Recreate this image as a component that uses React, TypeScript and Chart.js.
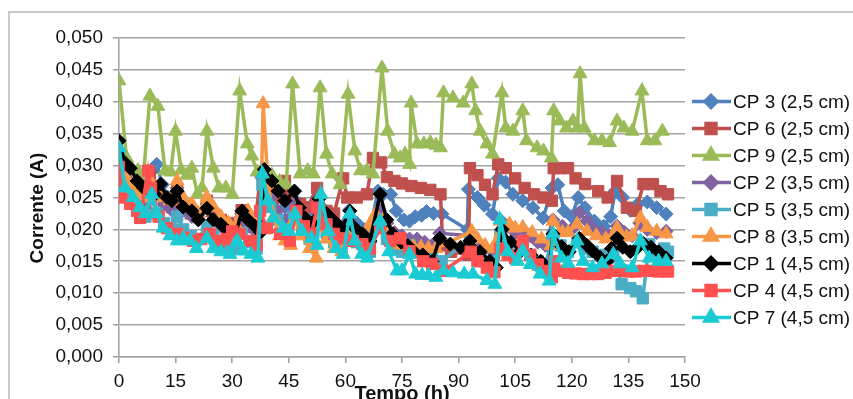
import React, { useEffect, useRef } from 'react';
import { Chart, registerables } from 'chart.js';
import { drawPoint } from 'chart.js/helpers';

Chart.register(...registerables);

// ---- data: [tempo (h), corrente (A)] ----
const cp3: [number, number][] = [[0,0.0315],[1.5,0.0285],[3,0.0270],[5,0.0260],[7,0.0255],[8.5,0.0290],[10,0.0302],[11.5,0.0270],[13,0.0250],[15.4,0.0265],[17,0.0240],[19.3,0.0235],[21,0.0220],[23.3,0.0240],[25,0.0220],[27,0.0210],[29,0.0205],[31,0.0200],[32.5,0.0225],[34.5,0.0210],[36.5,0.0200],[38,0.0290],[40,0.0265],[42,0.0250],[44,0.0235],[46.5,0.0260],[48,0.0240],[50,0.0225],[52.5,0.0250],[54.5,0.0230],[56.5,0.0215],[58.5,0.0205],[61,0.0230],[63,0.0210],[65,0.0200],[66.5,0.0195],[68.6,0.0260],[70,0.0255],[72,0.0255],[73.5,0.0229],[75.5,0.0215],[77,0.0213],[78.5,0.0220],[80.2,0.0222],[81.5,0.0228],[83.3,0.0225],[85.6,0.0224],[92.3,0.0200],[92.6,0.0263],[95,0.0250],[96.8,0.0238],[99,0.0224],[100.5,0.0280],[102.5,0.0274],[104.4,0.0255],[107,0.0245],[109.7,0.0234],[112.4,0.0218],[114.8,0.0265],[116.3,0.0270],[118,0.0229],[120,0.0220],[121.7,0.0250],[123.5,0.0234],[126,0.0213],[128.5,0.0205],[130.3,0.0220],[131.5,0.0260],[133.5,0.0250],[135.5,0.0230],[137.5,0.0240],[140,0.0243],[142.5,0.0234],[145,0.0224]];

const cp6: [number, number][] = [[0,0.0310],[1.5,0.0275],[3,0.0260],[5,0.0250],[7,0.0240],[8.2,0.0285],[10,0.0260],[12,0.0245],[14,0.0235],[15.4,0.0260],[17,0.0235],[19,0.0225],[21,0.0220],[23.3,0.0245],[25,0.0225],[27,0.0215],[29,0.0210],[31,0.0205],[32.5,0.0230],[34,0.0215],[36,0.0205],[37.6,0.0290],[39,0.0270],[41,0.0260],[42.7,0.0250],[44,0.0276],[45.3,0.0255],[48,0.0240],[50,0.0235],[52.5,0.0265],[55,0.0229],[57,0.0225],[59.4,0.0280],[60.5,0.0250],[63,0.0250],[65.7,0.0255],[67.3,0.0312],[69.5,0.0305],[71,0.0282],[73,0.0276],[75,0.0272],[77.5,0.0268],[80,0.0265],[82.5,0.0262],[85.2,0.0255],[85.8,0.0175],[88,0.0165],[92.6,0.0160],[93,0.0296],[95,0.0285],[97,0.0270],[99,0.0255],[100.5,0.0302],[102.5,0.0296],[105,0.0280],[107.5,0.0265],[110,0.0255],[112.5,0.0250],[114.7,0.0245],[115.2,0.0296],[117,0.0296],[119,0.0296],[121,0.0280],[123.5,0.0271],[127,0.0260],[129.5,0.0250],[132,0.0276],[134.6,0.0234],[137,0.0229],[139,0.0271],[141.5,0.0271],[143.5,0.0260],[145.5,0.0255]];

const cp9: [number, number][] = [[0,0.0433],[2,0.0312],[3.5,0.0295],[5,0.0292],[6.5,0.0285],[8.2,0.0409],[10.3,0.0393],[12.2,0.0292],[13.7,0.0290],[15,0.0354],[16.5,0.0293],[18,0.0285],[19.3,0.0296],[20.8,0.0255],[22,0.0265],[23.3,0.0354],[25,0.0296],[26.5,0.0265],[28.3,0.0265],[30,0.0255],[32,0.0417],[34,0.0334],[35.2,0.0315],[36.6,0.0290],[38.5,0.0275],[40.5,0.0285],[42.5,0.0275],[44.3,0.0270],[46,0.0428],[48,0.0287],[50,0.0292],[51.5,0.0287],[53.3,0.0422],[55,0.0318],[56.5,0.0287],[58.6,0.0270],[60.7,0.0412],[62.5,0.0323],[64,0.0292],[65.7,0.0292],[67.3,0.0287],[69.7,0.0453],[71.2,0.0354],[73,0.0318],[74.5,0.0312],[75.8,0.0318],[77,0.0302],[77.4,0.0398],[79,0.0334],[80.8,0.0334],[82.5,0.0336],[84,0.0332],[85.2,0.0328],[86,0.0414],[88.5,0.0406],[91.2,0.0398],[93.5,0.0428],[94.5,0.0386],[95.7,0.0354],[97.5,0.0334],[99,0.0318],[101.5,0.0414],[102.5,0.0359],[104.4,0.0354],[107,0.0386],[108,0.0339],[110.8,0.0328],[112.5,0.0323],[114.6,0.0312],[115.2,0.0386],[116.8,0.0370],[118.6,0.0359],[120.3,0.0370],[121.5,0.0359],[122.2,0.0444],[123.3,0.0359],[126,0.0339],[128,0.0339],[130,0.0336],[132,0.0370],[133.8,0.0359],[136,0.0354],[138.6,0.0417],[140,0.0339],[142,0.0339],[144,0.0354]];

const cp2: [number, number][] = [[0,0.0310],[2,0.0280],[4,0.0260],[6,0.0250],[8,0.0270],[10,0.0255],[12,0.0240],[14,0.0230],[15.4,0.0255],[17,0.0230],[19.3,0.0220],[21,0.0215],[23.3,0.0235],[25,0.0215],[27,0.0205],[29,0.0200],[31,0.0195],[32.5,0.0220],[34.5,0.0205],[36.5,0.0195],[38,0.0280],[40,0.0250],[42,0.0230],[44,0.0215],[46.5,0.0240],[48.5,0.0220],[50.5,0.0205],[52.7,0.0235],[55,0.0210],[57,0.0195],[59,0.0185],[61,0.0215],[63,0.0195],[65,0.0185],[66.5,0.0180],[69,0.0230],[71,0.0210],[73,0.0195],[75,0.0190],[77,0.0185],[79,0.0185],[81,0.0180],[83,0.0175],[85,0.0194],[93,0.0190],[95,0.0180],[97,0.0170],[99,0.0165],[101,0.0215],[103,0.0205],[105,0.0195],[107,0.0200],[109,0.0190],[111,0.0180],[113,0.0175],[115,0.0215],[117.5,0.0205],[120,0.0200],[122,0.0226],[124,0.0213],[126,0.0200],[128,0.0195],[130,0.0190],[132,0.0205],[134,0.0195],[136,0.0190],[138,0.0210],[140,0.0200],[142.5,0.0195],[145,0.0197]];

const cp5: [number, number][] = [[0,0.0315],[1.5,0.0260],[3,0.0245],[5,0.0230],[7,0.0220],[8.5,0.0250],[10,0.0225],[12,0.0210],[14,0.0200],[15.4,0.0220],[17,0.0200],[19,0.0190],[21,0.0185],[23.3,0.0205],[25,0.0190],[27,0.0180],[29,0.0175],[31,0.0170],[32.5,0.0195],[34.5,0.0180],[36.5,0.0170],[38,0.0270],[40,0.0235],[42,0.0215],[44,0.0200],[46.5,0.0220],[48.5,0.0200],[50.5,0.0185],[52.7,0.0220],[55,0.0195],[57,0.0180],[59,0.0170],[61,0.0200],[63,0.0180],[65,0.0170],[66.5,0.0165],[69,0.0210],[71,0.0185],[73,0.0170],[75,0.0165],[77,0.0175],[79,0.0165],[81,0.0160],[83,0.0155],[85.5,0.0150],[93,0.0185],[95,0.0160],[97,0.0150],[99,0.0145],[101,0.0190],[103,0.0175],[105,0.0165],[107,0.0175],[109,0.0160],[111,0.0150],[113,0.0145],[115,0.0190],[117,0.0175],[119,0.0165],[121.5,0.0180],[123.5,0.0170],[125.5,0.0165],[127.5,0.0160],[129.5,0.0155],[131,0.0165],[133.2,0.0114],[135.5,0.0108],[137,0.0103],[138.8,0.0092],[140.5,0.0177],[142.5,0.0165],[144.5,0.0170],[145.5,0.0165]];

const cp8: [number, number][] = [[0,0.0310],[1.5,0.0285],[3,0.0270],[5,0.0255],[7,0.0250],[8.5,0.0275],[10,0.0260],[12,0.0250],[13.5,0.0245],[15.4,0.0276],[17,0.0250],[19.3,0.0240],[21,0.0225],[23.3,0.0250],[25,0.0235],[27,0.0220],[29,0.0210],[31,0.0205],[32.5,0.0225],[34.2,0.0229],[36,0.0210],[37.5,0.0200],[38.2,0.0397],[39.5,0.0270],[41,0.0220],[42.5,0.0190],[44,0.0182],[45.5,0.0175],[46.5,0.0215],[48.5,0.0190],[50.5,0.0170],[52.3,0.0155],[52.8,0.0210],[55,0.0185],[57,0.0170],[59,0.0165],[61,0.0200],[63,0.0180],[65,0.0175],[66.5,0.0208],[68,0.0224],[70,0.0215],[71,0.0202],[72.6,0.0185],[74.5,0.0176],[76,0.0175],[78,0.0173],[80,0.0172],[82,0.0170],[84,0.0170],[93.5,0.0197],[95,0.0185],[97,0.0175],[99,0.0170],[101,0.0213],[103.5,0.0208],[105,0.0202],[107,0.0203],[109.5,0.0195],[112,0.0185],[114.5,0.0175],[115,0.0213],[117.5,0.0195],[119,0.0195],[121.4,0.0208],[124,0.0197],[126.5,0.0190],[129,0.0185],[132,0.0202],[134.5,0.0188],[136,0.0190],[138.2,0.0218],[140,0.0203],[142.5,0.0197],[145,0.0193]];

const cp1: [number, number][] = [[0,0.0339],[1.5,0.0305],[3,0.0296],[4.8,0.0276],[6.5,0.0265],[8.2,0.0260],[9.5,0.0255],[11,0.0271],[12.7,0.0250],[14,0.0245],[15.4,0.0260],[17,0.0235],[19.3,0.0229],[21,0.0215],[23.3,0.0233],[25,0.0215],[27,0.0208],[29,0.0197],[31,0.0195],[32.6,0.0229],[34.2,0.0215],[36,0.0205],[37.5,0.0195],[38.5,0.0294],[40.5,0.0276],[42.2,0.0260],[44,0.0245],[46.5,0.0260],[47.8,0.0234],[49.3,0.0218],[51.2,0.0210],[53,0.0248],[55,0.0225],[57,0.0213],[59,0.0202],[61.2,0.0229],[62.5,0.0202],[64.5,0.0193],[66.5,0.0182],[69.2,0.0255],[71,0.0215],[72.5,0.0193],[74.8,0.0180],[76.5,0.0175],[78,0.0166],[80.5,0.0160],[83,0.0150],[85,0.0186],[87.8,0.0177],[90.5,0.0172],[93,0.0182],[95.7,0.0165],[98.3,0.0150],[100,0.0140],[101.5,0.0200],[103.8,0.0180],[106.5,0.0166],[109.2,0.0160],[111.8,0.0150],[114,0.0140],[115,0.0193],[117.3,0.0173],[119.3,0.0165],[122,0.0186],[124,0.0175],[125.5,0.0166],[127.5,0.0156],[129.3,0.0150],[130.5,0.0170],[132,0.0186],[133.5,0.0172],[135.5,0.0165],[137.5,0.0172],[139,0.0178],[141,0.0172],[143,0.0165],[145,0.0155]];

const cp4: [number, number][] = [[0,0.0298],[1,0.0250],[3,0.0240],[4.8,0.0229],[5.6,0.0218],[7.7,0.0292],[8.5,0.0265],[10.5,0.0220],[12.7,0.0202],[15.4,0.0193],[17.2,0.0187],[19.6,0.0182],[21.8,0.0185],[24,0.0193],[26.5,0.0182],[28.5,0.0185],[30,0.0197],[32,0.0193],[34.7,0.0182],[36.5,0.0176],[37.4,0.0229],[39.2,0.0202],[42.7,0.0193],[45.3,0.0182],[47,0.0229],[49,0.0205],[51,0.0193],[52.5,0.0234],[55,0.0208],[57,0.0193],[59.4,0.0186],[62,0.0182],[64.5,0.0177],[66.5,0.0170],[69.2,0.0202],[71.8,0.0182],[74.5,0.0186],[77,0.0166],[80.6,0.0150],[83,0.0146],[86,0.0135],[93.2,0.0165],[95,0.0150],[97.5,0.0140],[99.5,0.0133],[101,0.0170],[103,0.0160],[105,0.0155],[107,0.0182],[109,0.0160],[111,0.0145],[113,0.0135],[114.7,0.0125],[115.3,0.0150],[117,0.0135],[119,0.0132],[121,0.0131],[123,0.0130],[125,0.0130],[127,0.0130],[129,0.0132],[131,0.0135],[133,0.0135],[135,0.0134],[137,0.0134],[139,0.0135],[141,0.0135],[143,0.0134],[145.5,0.0134]];

const cp7: [number, number][] = [[0,0.0328],[1.6,0.0265],[3.7,0.0250],[5.5,0.0234],[7,0.0225],[8.7,0.0255],[10,0.0225],[11.7,0.0202],[13.5,0.0190],[15.4,0.0182],[17,0.0186],[18.8,0.0182],[20.5,0.0170],[23.3,0.0186],[25,0.0170],[27,0.0165],[29.4,0.0161],[31.3,0.0182],[33,0.0166],[35,0.0161],[36.8,0.0155],[38,0.0287],[39.5,0.0245],[41,0.0218],[43.5,0.0202],[45,0.0197],[46.6,0.0224],[48.5,0.0197],[51,0.0186],[52.5,0.0175],[53.5,0.0255],[55.5,0.0197],[57.5,0.0170],[59.4,0.0161],[61.2,0.0224],[62.5,0.0182],[64.3,0.0161],[65.8,0.0155],[69.2,0.0213],[71.5,0.0165],[73.7,0.0135],[75,0.0135],[77,0.0161],[78.6,0.0130],[80.3,0.0128],[82,0.0128],[84,0.0125],[86,0.0135],[88.5,0.0132],[91.5,0.0130],[93.8,0.0130],[97.5,0.0120],[99.6,0.0114],[101,0.0215],[103,0.0165],[105.6,0.0150],[107,0.0166],[109,0.0145],[111.6,0.0130],[114,0.0119],[115,0.0193],[117.3,0.0155],[119,0.0147],[121.4,0.0182],[123,0.0150],[125.5,0.0140],[128,0.0146],[131,0.0161],[132.8,0.0146],[136,0.0140],[138.2,0.0182],[140.5,0.0155],[143,0.0150],[145,0.0150]];

const seriesNames = ['CP 3 (2,5 cm)', 'CP 6 (2,5 cm)', 'CP 9 (2,5 cm)', 'CP 2 (3,5 cm)', 'CP 5 (3,5 cm)', 'CP 8 (3,5 cm)', 'CP 1 (4,5 cm)', 'CP 4 (4,5 cm)', 'CP 7 (4,5 cm)'];
const seriesData = [cp3, cp6, cp9, cp2, cp5, cp8, cp1, cp4, cp7];
const seriesColors = ['#4F81BD', '#C0504D', '#9BBB59', '#8064A2', '#4BACC6', '#F79646', '#000000', '#FF4F4F', '#1ACBD3'];
const seriesMarkers = ['rectRot', 'rect', 'triangle', 'rectRot', 'rect', 'triangle', 'rectRot', 'rect', 'triangle'];

const xAxisTitle = 'Tempo (h)';
const yAxisTitle = 'Corrente (A)';

const FONT = '"Liberation Sans", Arial, sans-serif';
const markerRadius: Record<string, number> = { rectRot: 7, rect: 8, triangle: 8 };

export default function App() {
  const ref = useRef<HTMLCanvasElement | null>(null);

  useEffect(() => {
    if (!ref.current) return;
    const textPlugin = {
      id: 'customText',
      afterDraw(chart: any) {
        const ctx = chart.ctx;
        const area = chart.chartArea;
        ctx.save();
        ctx.fillStyle = '#111';
        // y title
        ctx.font = 'bold 19px ' + FONT;
        ctx.textAlign = 'center';
        ctx.textBaseline = 'middle';
        ctx.save();
        ctx.translate(38, 208);
        ctx.rotate(-Math.PI / 2);
        ctx.fillText(yAxisTitle, 0, 0);
        ctx.restore();
        // x title
        ctx.font = 'bold 20px ' + FONT;
        ctx.textBaseline = 'alphabetic';
        ctx.fillText(xAxisTitle, (area.left + area.right) / 2, 400);
        // legend
        ctx.font = '19px ' + FONT;
        ctx.textAlign = 'left';
        ctx.textBaseline = 'middle';
        for (let i = 0; i < seriesNames.length; i++) {
          const y = 101.5 + i * 27;
          ctx.strokeStyle = seriesColors[i];
          ctx.lineWidth = 3.5;
          ctx.beginPath();
          ctx.moveTo(692, y);
          ctx.lineTo(731, y);
          ctx.stroke();
          ctx.fillStyle = seriesColors[i];
          drawPoint(ctx, { pointStyle: seriesMarkers[i], radius: markerRadius[seriesMarkers[i]] - 1, rotation: 0, borderWidth: 1 } as any, 711, y);
          ctx.fillStyle = '#111';
          ctx.fillText(seriesNames[i], 733, y + 1);
        }
        ctx.restore();
      },
    };

    const chart = new Chart(ref.current, {
      type: 'line',
      data: {
        datasets: seriesData.map((pts, i) => ({
          label: seriesNames[i],
          data: pts.map(([x, y]) => ({ x, y })),
          borderColor: seriesColors[i],
          backgroundColor: seriesColors[i],
          pointBackgroundColor: seriesColors[i],
          pointBorderColor: seriesColors[i],
          borderWidth: 3.5,
          pointStyle: seriesMarkers[i] as any,
          pointRadius: markerRadius[seriesMarkers[i]],
          pointBorderWidth: 1,
          tension: 0,
          fill: false,
          order: seriesData.length - i,
        })),
      },
      options: {
        animation: false,
        responsive: false,
        maintainAspectRatio: false,
        layout: { padding: { top: 38, right: 168, bottom: 0, left: 0 } },
        plugins: { legend: { display: false }, tooltip: { enabled: false } },
        scales: {
          x: {
            type: 'linear',
            min: 0,
            max: 150,
            ticks: { stepSize: 15, color: '#111', font: { size: 19, family: FONT }, padding: 7, maxRotation: 0, autoSkip: false },
            grid: { drawOnChartArea: false, tickLength: 6, color: '#a4a4a4', lineWidth: 1.6 },
            border: { color: '#a4a4a4', width: 1.6 },
            afterFit: (s: any) => { s.height = 42; },
          },
          y: {
            min: 0,
            max: 0.05,
            ticks: {
              stepSize: 0.005,
              color: '#111',
              font: { size: 19, family: FONT },
              padding: 10,
              callback: (v: any) => Number(v).toFixed(3).replace('.', ','),
            },
            grid: { color: '#a4a4a4', lineWidth: 1.6, tickLength: 6 },
            border: { color: '#a4a4a4', width: 1.6 },
            afterFit: (s: any) => { s.width = 119; },
          },
        },
      } as any,
      plugins: [textPlugin],
    });
    return () => chart.destroy();
  }, []);

  return (
    <div style={{ position: 'fixed', left: 0, top: 0, width: 853, height: 399, background: '#fff', overflow: 'hidden' }}>
      <div style={{ position: 'absolute', left: 8, top: 11, width: 900, height: 500, borderLeft: '2px solid #c8c8c8', borderTop: '2px solid #c8c8c8' }} />
      <canvas ref={ref} width={853} height={399} style={{ position: 'absolute', left: 0, top: 0, width: 853, height: 399 }} />
    </div>
  );
}
